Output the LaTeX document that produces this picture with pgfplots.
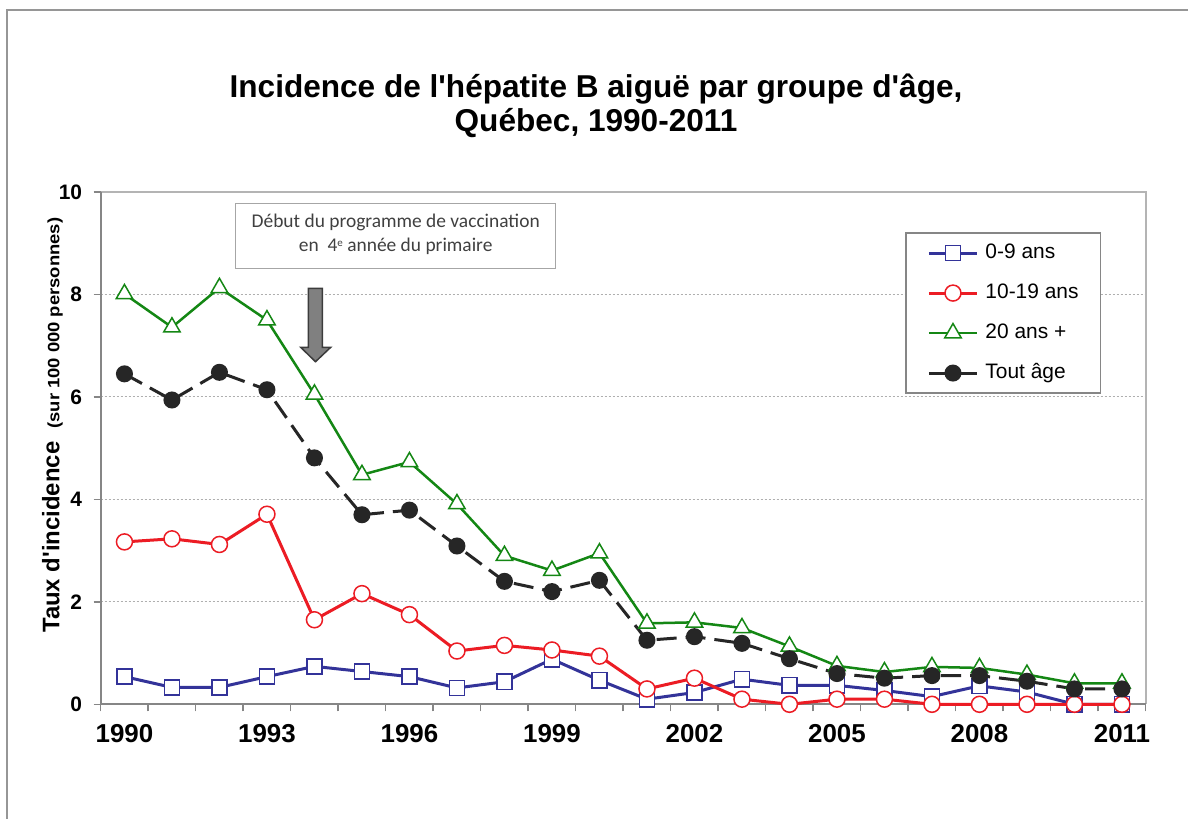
\documentclass[border=0pt]{standalone}
\usepackage{pgfplots}
\usepackage{pgfplotstable}
\pgfplotsset{compat=1.18}
\usepackage{fontspec}
\setmainfont{Liberation Sans}
\newfontfamily\carlito{Carlito}
\definecolor{cblue}{RGB}{51,51,153}
\definecolor{cred}{RGB}{236,28,36}
\definecolor{cgreen}{RGB}{20,135,20}
\definecolor{cblack}{RGB}{38,38,38}
\definecolor{axgray}{RGB}{134,134,134}
\definecolor{bordergray}{RGB}{180,180,180}
\definecolor{gridgray}{RGB}{175,175,175}
\definecolor{framegray}{RGB}{150,150,150}
\definecolor{boxgray}{RGB}{166,166,166}
\definecolor{textgray}{RGB}{64,64,64}

\pgfplotstableread{
year a b c d
1990 0.54 3.17 8.01 6.45
1991 0.33 3.23 7.36 5.94
1992 0.33 3.12 8.13 6.48
1993 0.54 3.71 7.50 6.14
1994 0.74 1.65 6.05 4.81
1995 0.64 2.16 4.48 3.70
1996 0.54 1.75 4.73 3.79
1997 0.32 1.04 3.91 3.09
1998 0.44 1.15 2.90 2.40
1999 0.88 1.06 2.61 2.20
2000 0.47 0.94 2.95 2.42
2001 0.10 0.30 1.58 1.25
2002 0.23 0.51 1.60 1.32
2003 0.49 0.10 1.49 1.19
2004 0.37 0.00 1.13 0.89
2005 0.37 0.10 0.75 0.60
2006 0.27 0.10 0.63 0.51
2007 0.15 0.00 0.73 0.56
2008 0.36 0.00 0.71 0.56
2009 0.24 0.00 0.58 0.45
2010 0.00 0.00 0.41 0.30
2011 0.00 0.00 0.41 0.30
}\data

\begin{document}
\begin{tikzpicture}
\useasboundingbox (0,0) rectangle (1188bp,819bp);
\fill[white] (0,0) rectangle (1188bp,819bp);
\draw[framegray, line width=1.5bp] (7bp,0) -- (7bp,809bp) -- (1188bp,809bp);

\node[anchor=base, inner sep=0pt, font=\fontsize{31.7}{31.7}\selectfont\bfseries] at (596bp,721bp) {Incidence de l\textquotesingle hépatite B aiguë par groupe d\textquotesingle âge,};
\node[anchor=base, inner sep=0pt, font=\fontsize{31.7}{31.7}\selectfont\bfseries] at (596bp,687bp) {Québec, 1990-2011};

\begin{axis}[
  at={(100.7bp,114.7bp)}, anchor=south west,
  scale only axis, width=1045bp, height=512.3bp,
  xmin=1989.5, xmax=2011.5, ymin=0, ymax=10,
  xtick={1989.5,1990.5,...,2011.5}, xticklabels={},
  extra x ticks={1990,1993,...,2011},
  extra x tick style={major tick length=0pt, grid=none},
  ytick={0,2,...,10},
  tick pos=left, tick align=outside,
  major tick length=7bp,
  every tick/.style={draw=axgray, line width=1.5bp},
  ymajorgrids,
  grid style={gridgray, dash pattern=on 2bp off 2bp, line width=1bp},
  axis line style={draw=none},
  /pgf/number format/assume math mode=true,
  /pgf/number format/1000 sep={},
  xticklabel style={font=\fontsize{26}{26}\selectfont\bfseries, anchor=base, yshift=-38.5bp},
  yticklabel style={font=\fontsize{21}{21}\selectfont\bfseries, anchor=east, inner sep=0pt, xshift=-11.5bp},
  clip=false,
  legend style={at={(rel axis cs:0.7697,0.9213)}, anchor=north west,
    draw=axgray, line width=1.5bp, fill=white,
    font=\fontsize{21}{21}\selectfont,
    inner xsep=21.7bp, inner ysep=10.5bp,
    row sep=21bp,
    nodes={inner sep=0pt, text height=15bp, text depth=4bp},
    /tikz/every odd column/.append style={column sep=7bp}},
  legend cell align=left,
  legend image code/.code={\draw[mark repeat=2,mark phase=2] plot coordinates {(0bp,0bp) (24bp,0bp) (48bp,0bp)};},
]
\draw[bordergray, line width=2bp] (rel axis cs:0,1) -- (rel axis cs:1,1) -- (rel axis cs:1,0);
\draw[axgray, line width=2bp] (rel axis cs:0,1) -- (rel axis cs:0,0) -- (rel axis cs:1,0);

\addplot[cblue, line width=3bp, mark=square*, mark size=7.6bp, mark options={fill=white, draw=cblue, line width=1.5bp}] table[x=year, y=a] {\data};
\addlegendentry{0-9 ans}
\addplot[cred, line width=3bp, mark=*, mark size=8bp, mark options={fill=white, draw=cred, line width=1.5bp}] table[x=year, y=b] {\data};
\addlegendentry{10-19 ans}
\addplot[cgreen, line width=2.5bp, mark=triangle*, mark size=9.5bp, mark options={fill=white, draw=cgreen, line width=1.5bp}] table[x=year, y=c] {\data};
\addlegendentry{20 ans +}
\addplot[cblack, line width=3bp, dash pattern=on 20bp off 9bp, mark=*, mark size=7bp, mark options={solid, fill=cblack, draw=cblack}] table[x=year, y=d] {\data};
\addlegendentry{Tout âge}
\end{axis}

% annotation box
\draw[boxgray, line width=1.5bp, fill=white] (235.7bp,550.7bp) rectangle (555.7bp,615.7bp);
\node[anchor=base, inner sep=0pt, text=textgray, font=\carlito\fontsize{19.5}{19.5}\selectfont] at (395.7bp,591.3bp) {Début du programme de vaccination};
\node[anchor=base, inner sep=0pt, text=textgray, font=\carlito\fontsize{19.5}{19.5}\selectfont] at (395.7bp,567.3bp) {en\ \ 4\raisebox{5bp}{\fontsize{11}{11}\selectfont e} année du primaire};

% arrow
\draw[fill={rgb,255:red,128;green,128;blue,128}, draw={rgb,255:red,60;green,60;blue,60}, line width=1.5bp]
  (308.3bp,530.7bp) -- (322.3bp,530.7bp) -- (322.3bp,471.7bp) -- (330.7bp,471.7bp) -- (315.5bp,457.3bp) -- (300.7bp,471.7bp) -- (308.3bp,471.7bp) -- cycle;

% y label
\node[rotate=90, anchor=base west, inner sep=0pt] at (59.3bp,186bp)
  {{\fontsize{24}{24}\selectfont\bfseries Taux d\textquotesingle incidence}\hspace{13bp}\scalebox{1.12}[1]{\fontsize{16.5}{16.5}\selectfont\bfseries (sur 100 000 personnes)}};
\end{tikzpicture}
\end{document}
